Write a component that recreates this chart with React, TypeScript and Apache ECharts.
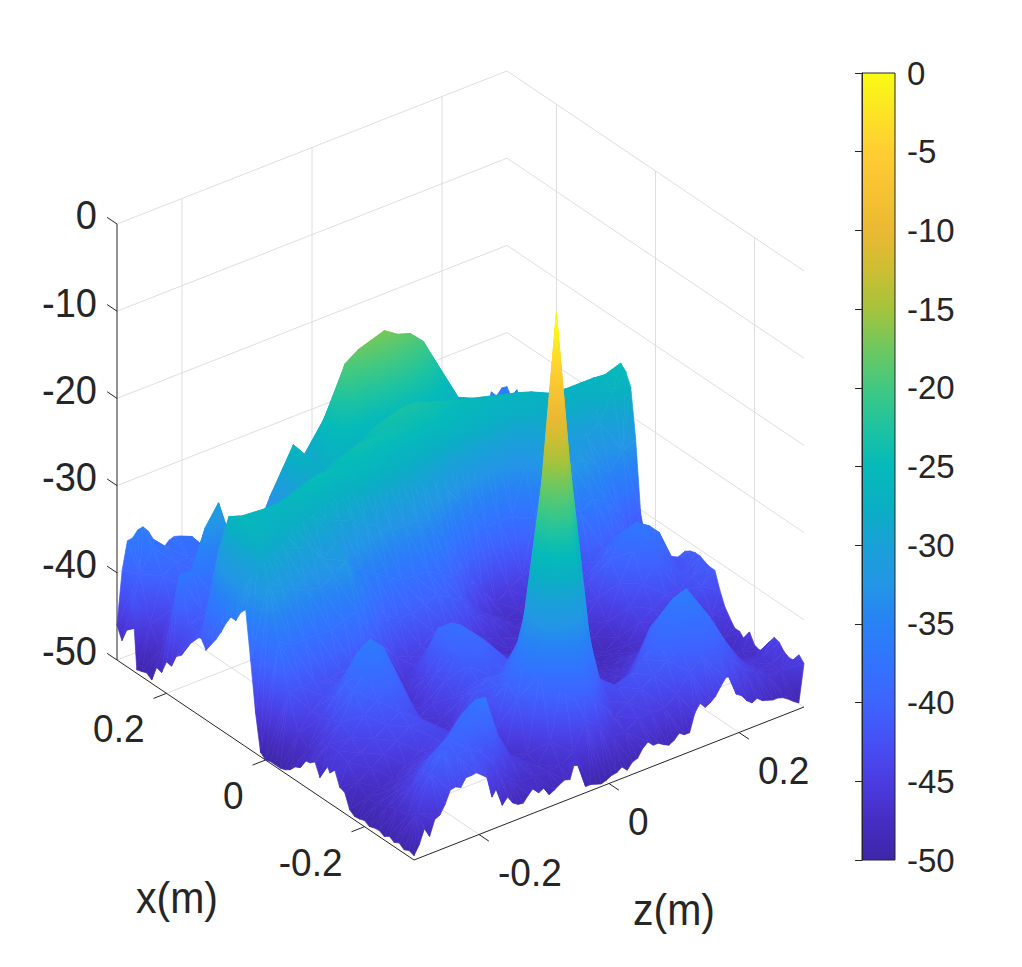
import { useEffect, useRef } from "react";
import * as echarts from "echarts";

// inner surface heights in dB: rows run along x (-0.28 .. 0.28), columns along z (-0.28 .. 0.28), step 0.02 m
const surfaceRows: number[][] = [
  [-46,-42,-40,-41,-41,-42,-44,-46,-47,-47,-47,-47,-46,-43,-44,-46,-46,-45,-45,-45,-44,-42,-41,-40.5,-42,-44,-45,-46,-46],
  [-47,-43,-41,-40,-39,-38.5,-37,-42,-45,-46,-47,-45,-38,-33,-38,-43,-45,-44,-43,-42,-41,-40,-39,-38.5,-40,-43,-45,-46,-46],
  [-47,-45,-43,-42,-41,-39,-38,-41,-45,-47,-46.5,-38,-22,-16,-29,-39,-44,-43,-42,-41,-39,-38,-37.5,-37,-39,-42,-45,-46,-46],
  [-47.5,-46,-45,-44,-43,-42,-42,-44,-46,-47,-41,-32,-16,1.5,-16,-34,-42,-44,-44,-43,-40,-38,-36.5,-36,-38.5,-42,-45,-46.5,-47],
  [-48,-47,-46,-45,-44.5,-44,-44,-45,-46,-45,-40,-36,-29,-15,-22,-38,-44,-46,-46,-45,-43,-40,-39,-38.5,-41,-44,-46,-47,-47],
  [-48,-47.5,-47,-46,-45,-44,-44,-45,-45,-43,-41,-40,-36,-33,-37,-42,-46,-47,-47.5,-47,-46,-44,-42,-42,-44,-46,-47,-47.5,-47.5],
  [-47,-46,-45,-44,-43,-43,-44,-46,-45,-42,-41,-41,-40,-40,-41,-44,-46,-47,-47.5,-47.5,-46.5,-46,-45,-45,-46,-47,-47,-47,-47],
  [-45.5,-45,-44,-43,-42,-43,-45,-47,-46,-43,-42,-42,-42,-42,-43,-45,-46,-46,-47,-47.5,-47,-47,-46,-46,-46,-46,-46,-46,-45],
  [-45,-44,-42,-41,-40,-41,-44,-47,-46,-44,-41,-40,-41,-42,-43,-44,-46,-46,-47,-47.5,-47.5,-47.5,-47,-47,-46,-45,-45,-44,-42.5],
  [-45,-43,-40,-38,-37.5,-39,-43,-46,-45,-43,-40,-39,-40,-43,-44,-44,-46,-46,-47,-48,-48,-48,-47.5,-47,-45,-44,-43,-43,-42],
  [-46,-43.5,-40,-37,-36,-37.5,-43,-46,-46,-43,-39,-38.5,-41,-44,-44.5,-45,-46,-47,-48,-48,-48,-48,-48,-47,-44,-42,-40,-41,-43],
  [-47,-44,-42,-40,-39,-39,-43,-46,-46.5,-44,-39,-39,-43,-45,-45,-45,-46,-47,-48,-48,-48,-48,-47,-46,-42,-39,-37.5,-38,-42],
  [-46,-44,-43,-42,-42,-42,-44,-46.5,-47,-45,-42,-42,-44,-46,-46,-46,-46.5,-47,-47.5,-47,-47,-47,-46,-44,-40,-37.5,-37,-38,-42],
  [-42,-42,-42,-42.5,-42,-42,-43,-46,-47,-46,-45,-44.5,-45,-46,-46.5,-47,-47,-47,-46.5,-46,-46,-46,-45,-43,-41,-39,-39,-41,-44],
  [-37,-38,-38,-38,-38,-37.5,-37,-40,-42,-44,-44.5,-44,-43,-43,-44,-45,-46,-46.5,-47,-47,-47,-47,-46,-44,-42,-41,-41,-42,-44],
  [-31,-32,-33,-33.5,-34,-33,-32,-35,-38,-40,-41,-41,-40.5,-40,-41,-42,-44,-45,-46,-47,-47,-47,-45,-42,-37,-36,-37,-39,-43],
  [-27,-28,-29,-29.5,-30,-32,-30.5,-34,-35,-36,-37,-38,-38,-38,-39,-40,-43,-45,-46,-47,-46.5,-46,-42,-35,-32,-32.5,-33.5,-35,-33],
  [-25.4,-26,-27,-27,-27.5,-28,-29,-29.5,-30,-31,-32,-33,-33,-33,-34,-36,-39,-42,-44,-46,-45,-44,-38,-31,-31,-31,-31,-30,-27],
  [-25.7,-26.4,-26,-26,-25.5,-25,-24.5,-24.5,-25,-25,-25,-26,-27,-28,-29,-30,-32,-34,-36,-38,-38,-38,-33,-29,-29,-28,-27.5,-27,-26],
  [-26.5,-27,-31,-30,-29,-28,-27,-26,-25,-24.5,-24,-24,-24,-24,-24.5,-25,-25,-26,-26.5,-27,-27.5,-28,-27.5,-27,-27,-27,-27,-27,-27],
  [-31,-38,-36,-34,-33,-32,-31,-30,-29,-28,-26,-25,-24,-23.5,-23,-23,-23.5,-24,-24.5,-25,-25.5,-26,-26.5,-26.5,-27,-28,-30,-31,-31],
  [-41,-40,-38,-37,-36,-35,-34,-31,-29,-28,-27,-27,-27,-27,-27,-27,-27,-27,-27,-27.5,-27,-27,-27,-28,-31,-34,-36,-37,-38],
  [-42,-40,-38,-37,-36,-36,-35,-30,-28,-28,-26,-24,-23,-23,-22,-22,-22,-23,-24,-26,-27,-27.5,-31,-36,-38,-38,-38,-38,-38],
  [-42,-41,-40,-39,-38,-37,-36,-33,-26,-30.5,-26.5,-23,-19,-18,-17.5,-17,-18,-18.5,-20,-23,-27.5,-32,-36,-38,-38,-39,-39,-39,-39],
  [-37,-37,-32.7,-30.5,-36,-37,-37,-32,-30,-30,-28,-26,-23,-21,-20,-20,-20,-21,-21,-26,-32,-36,-38,-39,-39,-39,-39,-39,-39],
  [-44,-41,-38,-37,-38,-39,-39,-37,-36,-34,-33,-32,-30,-28,-27,-27,-27,-28,-30,-32,-36,-38,-39,-39,-39,-39,-40,-40,-40],
  [-47,-43,-41,-40,-40,-41,-41,-40,-40,-39,-39,-38,-37,-36,-36,-36,-36,-37,-38,-39,-40,-40,-40,-40,-40,-40,-40,-40,-40],
  [-45,-40,-39,-39,-39,-40,-41,-41,-41,-40,-40,-40,-40,-39,-39,-39,-39,-40,-40,-40,-40,-40,-40,-40,-40,-40,-40,-40,-39],
  [-40,-37.5,-38,-38,-38,-41,-41,-41,-41,-41,-41,-41,-41,-41,-40,-40,-40,-40,-40,-40,-40,-40,-40,-40,-40,-40,-39,-38,-37],
];

// fine readings along the four rims of the surface, step 0.01 m along x and 0.008 m along z
const rimFrontX = [-49.5,-49.3,-49.6,-49.2,-49.5,-49.2,-49.6,-49.3,-49.4,-49.6,-49.3,-49.5,-49.6,-49.2,-47.6,-47.4,-45.8,-46.5,-45.4,-47.8,-46.4,-46.9,-47,-48.2,-48.5,-49.2,-49.6,-49.8,-49.8,-49.8,-50,-49.5,-45.4,-39.7,-34.3,-35,-36.3,-36.3,-37.4,-38.8,-40,-41,-42,-41,-41.3,-42.3,-43,-44.5,-45,-46.5,-46.4,-48,-47.8,-49.6,-49.2,-49.4,-49.6,-40.8,-45.8,-47.4,-46];
const rimFrontZ = [-49.5,-48.5,-46.9,-48,-46.3,-46,-45,-43.6,-43.5,-43.8,-42.9,-42.9,-42.8,-43.3,-43.8,-46.3,-45.4,-47.7,-47,-47.9,-48.3,-48.4,-47.7,-47.1,-47.9,-47.6,-48.6,-48.3,-47.9,-47.6,-47.8,-45.9,-46.6,-49.3,-49.3,-49.5,-49.7,-49.5,-49.2,-49.1,-48.7,-49.3,-48.6,-48.4,-47.5,-47,-47.6,-47.6,-48,-48.3,-48,-47.4,-47.8,-47.8,-45.8,-44.9,-45.6,-45.3,-44.8,-43.9,-43.1,-43.2,-45.5,-45.9,-46.7,-47.2,-46.9,-47.4,-47.6,-47.8,-47.8,-48,-48.4,-48.9,-49.3,-45];
const rimBackZ = [-46,-39.9,-36.8,-36.7,-36,-35.9,-36.6,-37.8,-39.2,-39.2,-38.6,-38.4,-38.6,-40,-41.5,-41.5,-41.9,-42,-42,-42,-42,-42,-42,-41,-41,-41,-41,-41,-41,-41,-41,-41,-41,-41,-41,-41,-41,-41,-41,-41,-41,-41,-41,-41,-41,-41,-41,-41,-40,-40,-40,-40,-40,-40,-40,-40,-40,-40,-40,-40,-40,-40,-40,-40,-40,-40,-40,-40,-39,-39,-38,-38,-36.1,-36.8,-36.1,-36.2];
const rimSideX = [-45,-44.4,-45.4,-45.5,-45.2,-44.5,-44.3,-45.2,-46.6,-46.9,-46.7,-45.6,-46.9,-46.3,-46.3,-45.5,-44.6,-43.1,-41.2,-41.2,-41,-40.7,-40.7,-40.9,-41.3,-42.4,-44,-43.2,-45.3,-43.9,-45.8,-44.4,-43,-40.4,-32.3,-26.7,-25.3,-24.7,-25.7,-26.6,-27.5,-30,-32,-33,-34,-35,-36,-37,-38,-38,-38,-38,-38,-38,-38,-38,-38,-37,-35.8,-37.2,-36.2];

const xTicks = [0.2, 0, -0.2];
const zTicks = [-0.2, 0, 0.2];
const heightTicks = [0, -10, -20, -30, -40, -50];

// colour map: [dB, r, g, b]
const colorStops: number[][] = [
  [-50, 62, 38, 168],
  [-47.5, 70, 45, 195],
  [-45, 75, 60, 225],
  [-42.5, 70, 80, 245],
  [-40, 62, 100, 255],
  [-37.5, 50, 115, 255],
  [-35, 40, 130, 245],
  [-32.5, 35, 150, 230],
  [-30, 25, 160, 215],
  [-27.5, 10, 175, 195],
  [-25, 5, 186, 186],
  [-22.5, 30, 195, 160],
  [-20, 65, 200, 130],
  [-17.5, 110, 200, 95],
  [-15, 165, 195, 60],
  [-12.5, 205, 190, 50],
  [-10, 235, 185, 50],
  [-5, 255, 205, 50],
  [0, 249, 251, 20],
];

const FONT = '"Liberation Sans", Arial, sans-serif';
const INK = "#262626";

// oblique view of the box: floor corner at x=-0.3, z=-0.3 and the pixel runs of each axis
const project = (x: number, z: number, h: number): [number, number] => {
  const a = (x + 0.3) / 0.6;
  const b = (z + 0.3) / 0.6;
  return [414 - 297 * a + 390 * b, 860 - 200 * a - 153 * b - (h + 50) * 8.72];
};

const colorAt = (h: number) => {
  const v = Math.max(-50, Math.min(0, h));
  let k = 0;
  while (k < colorStops.length - 2 && colorStops[k + 1][0] < v) k++;
  const s = colorStops[k];
  const e = colorStops[k + 1];
  const t = (v - s[0]) / (e[0] - s[0]);
  const c = [1, 2, 3].map((n) => Math.round(s[n] + (e[n] - s[n]) * t));
  return `rgb(${c[0]},${c[1]},${c[2]})`;
};

// fill of one flat triangle: the height is linear on screen, so a linear gradient is exact
const triangleFill = (pts: number[][], hs: number[]) => {
  const [p0, p1, p2] = pts;
  const d = (p1[0] - p0[0]) * (p2[1] - p0[1]) - (p2[0] - p0[0]) * (p1[1] - p0[1]);
  const lo = Math.min(...hs);
  const hi = Math.max(...hs);
  if (Math.abs(d) < 0.01 || hi - lo < 0.01) return colorAt((lo + hi) / 2);
  const gx = ((hs[1] - hs[0]) * (p2[1] - p0[1]) - (hs[2] - hs[0]) * (p1[1] - p0[1])) / d;
  const gy = ((hs[2] - hs[0]) * (p1[0] - p0[0]) - (hs[1] - hs[0]) * (p2[0] - p0[0])) / d;
  const g2 = gx * gx + gy * gy;
  const low = pts[hs.indexOf(lo)];
  const x1 = low[0] + (gx * (hi - lo)) / g2;
  const y1 = low[1] + (gy * (hi - lo)) / g2;
  const stops = [{ offset: 0, color: colorAt(lo) }];
  colorStops.forEach((s) => {
    if (s[0] > lo && s[0] < hi) stops.push({ offset: (s[0] - lo) / (hi - lo), color: colorAt(s[0]) });
  });
  stops.push({ offset: 1, color: colorAt(hi) });
  return new echarts.graphic.LinearGradient(low[0], low[1], x1, y1, stops, true);
};

// vertices are [x, z, height]
const inner = (i: number, j: number) => [-0.28 + 0.02 * i, -0.28 + 0.02 * j, surfaceRows[i][j]];
const rowIdx = surfaceRows.map((_, i) => i);
const colIdx = surfaceRows[0].map((_, j) => j);
const lastRow = rowIdx.length - 1;
const lastCol = colIdx.length - 1;

// strip of triangles between a finely read rim and the nearest inner line, far end first
const ribbon = (fine: number[][], coarse: number[][], axis: number) => {
  const out: number[][][] = [];
  let f = 0;
  let c = 0;
  while (f < fine.length - 1 || c < coarse.length - 1) {
    const nf = f < fine.length - 1 ? fine[f + 1][axis] : Infinity;
    const nc = c < coarse.length - 1 ? coarse[c + 1][axis] : Infinity;
    if (nf <= nc) {
      out.push([fine[f], fine[f + 1], coarse[c]]);
      f++;
    } else {
      out.push([fine[f], coarse[c], coarse[c + 1]]);
      c++;
    }
  }
  return out.reverse();
};

const stepX = (k: number) => -0.3 + 0.01 * k;
const stepZ = (k: number) => -0.3 + 0.008 * k;

// far cells first, so nearer ones paint over them
const triangles: number[][][] = [
  ...ribbon(rimBackZ.map((h, k) => [0.3, stepZ(k), h]), colIdx.map((j) => inner(lastRow, j)), 1),
  ...ribbon(rimSideX.map((h, k) => [stepX(k), 0.3, h]), rowIdx.map((i) => inner(i, lastCol)), 0),
];
for (let i = lastRow - 1; i >= 0; i--) {
  for (let j = lastCol - 1; j >= 0; j--) {
    triangles.push([inner(i + 1, j), inner(i + 1, j + 1), inner(i, j + 1)]);
    triangles.push([inner(i + 1, j), inner(i, j + 1), inner(i, j)]);
  }
}
triangles.push(...ribbon(rimFrontX.map((h, k) => [stepX(k), -0.3, h]), rowIdx.map((i) => inner(i, 0)), 0));
triangles.push(...ribbon(rimFrontZ.map((h, k) => [-0.3, stepZ(k), h]), colIdx.map((j) => inner(0, j)), 1));

const wallSegments: number[][][] = [];
heightTicks.forEach((h) => {
  wallSegments.push([[0.3, -0.3, h], [0.3, 0.3, h]]);
  wallSegments.push([[0.3, 0.3, h], [-0.3, 0.3, h]]);
});
zTicks.forEach((z) => {
  wallSegments.push([[0.3, z, -50], [0.3, z, 0]]);
  wallSegments.push([[0.3, z, -50], [-0.3, z, -50]]);
});
xTicks.forEach((x) => {
  wallSegments.push([[x, 0.3, -50], [x, 0.3, 0]]);
  wallSegments.push([[x, -0.3, -50], [x, 0.3, -50]]);
});

const axisSegments: number[][][] = [
  [[0.3, -0.3, -50], [0.3, -0.3, 0]],
  [[0.3, -0.3, -50], [-0.3, -0.3, -50]],
  [[-0.3, -0.3, -50], [-0.3, 0.3, -50]],
];
heightTicks.forEach((h) => axisSegments.push([[0.3, -0.3, h], [0.32, -0.3, h]]));
xTicks.forEach((x) => axisSegments.push([[x, -0.3, -50], [x, -0.32, -50]]));
zTicks.forEach((z) => axisSegments.push([[-0.3, z, -50], [-0.32, z, -50]]));

const segmentSeries = (segments: number[][][], color: string, z: number) => ({
  type: "custom",
  coordinateSystem: "none",
  silent: true,
  z,
  data: segments.map((_, k) => k),
  renderItem: (params: any) => {
    const [s, e] = segments[params.dataIndex];
    const p = project(s[0], s[1], s[2]);
    const q = project(e[0], e[1], e[2]);
    return {
      type: "line",
      shape: { x1: p[0], y1: p[1], x2: q[0], y2: q[1] },
      style: { stroke: color, lineWidth: 1, fill: "none" },
    };
  },
});

const label = (text: string, x: number, y: number, fontSize: number, textAlign: string) => ({
  type: "text",
  x,
  y,
  scaleY: 1.07,
  silent: true,
  style: { text, fontFamily: FONT, fontSize, fill: INK, textAlign, textVerticalAlign: "middle" },
});

const App = () => {
  const chartRef = useRef<HTMLDivElement>(null);

  useEffect(() => {
    if (!chartRef.current) return;
    const chart = echarts.init(chartRef.current, undefined, { renderer: "svg" });

    const labels = [
      ...heightTicks.map((h) => label(String(h), 97, project(0.3, -0.3, h)[1] - 9, 38, "right")),
      ...xTicks.map((x) => {
        const p = project(x, -0.3, -50);
        return label(String(x), p[0] - 22, p[1] + 35, 37, "right");
      }),
      ...zTicks.map((z) => {
        const p = project(-0.3, z, -50);
        return label(String(z), p[0] + 19, p[1] + 38, 37, "left");
      }),
      label("x(m)", 136, 898, 41, "left"),
      label("z(m)", 633, 910, 41, "left"),
    ];

    chart.setOption({
      animation: false,
      backgroundColor: "#fff",
      grid: { left: 862, top: 73, width: 33, height: 787 },
      xAxis: { type: "value", min: 0, max: 1, show: false },
      yAxis: {
        type: "value",
        position: "right",
        min: -50,
        max: 0,
        interval: 5,
        z: 5,
        splitLine: { show: false },
        axisLine: { show: true, lineStyle: { color: INK, width: 1 } },
        axisTick: { show: true, inside: true, length: 7, lineStyle: { color: INK, width: 1 } },
        axisLabel: { fontFamily: FONT, fontSize: 33, color: INK, margin: 12, padding: [3, 0, 0, 0] },
      },
      graphic: labels,
      series: [
        segmentSeries(wallSegments, "#dedede", 1),
        segmentSeries(axisSegments, INK, 1),
        {
          type: "custom",
          coordinateSystem: "none",
          silent: true,
          z: 2,
          progressive: 0,
          data: triangles.map((_, k) => k),
          renderItem: (params: any) => {
            const tri = triangles[params.dataIndex];
            const hs = tri.map((v) => v[2]);
            const pts = tri.map((v) => project(v[0], v[1], v[2]));
            const fill = triangleFill(pts, hs);
            return {
              type: "polygon",
              shape: { points: pts },
              style: { fill, stroke: fill, lineWidth: 0.7 },
            };
          },
        },
        {
          // colour bar
          type: "custom",
          coordinateSystem: "cartesian2d",
          silent: true,
          z: 1,
          data: [[0, -50, 1, 0]],
          encode: { x: [0, 2], y: [1, 3] },
          renderItem: (_: any, api: any) => {
            const p = api.coord([api.value(0), api.value(3)]);
            const q = api.coord([api.value(2), api.value(1)]);
            return {
              type: "rect",
              shape: { x: p[0], y: p[1], width: q[0] - p[0], height: q[1] - p[1] },
              style: {
                stroke: INK,
                lineWidth: 1,
                fill: new echarts.graphic.LinearGradient(
                  0,
                  1,
                  0,
                  0,
                  colorStops.map((s) => ({ offset: (s[0] + 50) / 50, color: colorAt(s[0]) })),
                ),
              },
            };
          },
        },
      ],
    });

    return () => chart.dispose();
  }, []);

  return <div ref={chartRef} style={{ position: "absolute", left: 0, top: 0, width: 1022, height: 967 }} />;
};

export default App;
